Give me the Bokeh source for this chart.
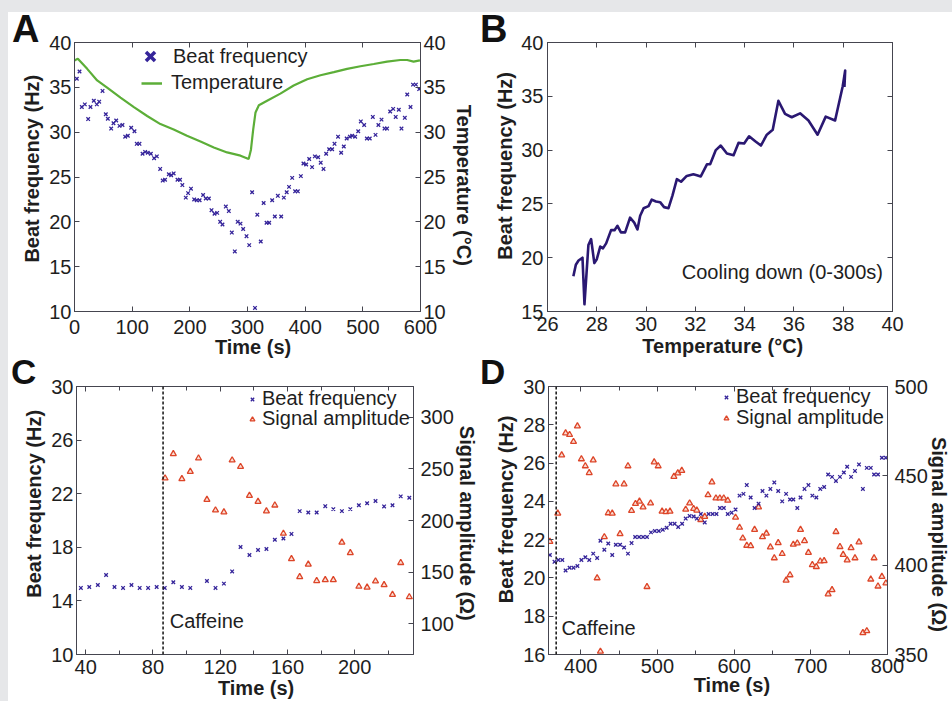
import numpy as np
from bokeh.plotting import figure
from bokeh.models import (LinearAxis, Range1d, FixedTicker, Label, Legend,
                          LegendItem, Span, Spacer, Div)
from bokeh.layouts import row, column
from bokeh.embed import file_html
from bokeh.resources import INLINE

# ---------------- data ----------------
# Panel A: beat frequency vs time, temperature vs time
a_time = [4.0, 8.7, 12.7, 17.9, 23.7, 27.7, 33.5, 38.7, 42.8, 48.6,
          54.3, 57.8, 63.6, 67.6, 72.3, 78.0, 83.2, 87.9, 92.5, 98.3,
          104.0, 108.0, 112.7, 118.0, 122.5, 127.0, 132.4, 138.0, 142.8, 148.6,
          153.0, 157.0, 163.6, 167.6, 172.0, 178.6, 183.0, 187.0, 193.0, 197.0,
          202.0, 207.5, 212.0, 217.0, 223.0, 227.7, 233.0, 237.6, 242.8, 247.4,
          252.6, 256.6, 262.4, 267.6, 272.8, 278.0, 283.0, 287.9, 292.5, 298.3,
          303.0, 308.0, 313.0, 317.0, 323.0, 328.0, 333.0, 337.6, 342.8, 347.4,
          352.6, 358.4, 363.0, 368.0, 372.0, 377.5, 382.6, 387.3, 392.5, 397.0,
          401.7, 407.0, 412.0, 416.8, 422.5, 427.0, 431.8, 436.4, 441.6, 446.8,
          450.9, 457.0, 462.4, 467.0, 472.0, 477.5, 481.5, 486.7, 492.0, 496.5,
          502.3, 507.0, 512.0, 517.3, 522.0, 527.0, 532.4, 537.6, 542.0, 547.4,
          552.6, 557.0, 562.4, 567.0, 572.8, 577.0, 582.7, 587.0, 592.0, 597.7]
a_beat = [35.95, 36.76, 32.8, 33.1, 31.46, 32.8, 33.5, 33.1, 33.4, 34.6,
          32.0, 31.5, 30.4, 31.0, 31.3, 30.7, 30.8, 29.5, 29.6, 30.5,
          30.1, 28.7, 28.7, 27.6, 27.8, 27.7, 27.6, 27.1, 27.3, 25.9,
          24.6, 24.7, 25.3, 25.2, 25.4, 24.7, 24.7, 24.1, 22.7, 23.2,
          23.7, 22.5, 22.4, 22.4, 23.0, 22.6, 22.6, 21.3, 20.9, 21.0,
          20.0, 19.7, 21.7, 21.2, 18.8, 16.7, 20.0, 19.8, 19.2, 18.4,
          17.4, 23.3, 10.4, 20.8, 17.8, 22.1, 19.9, 19.9, 22.4, 20.6,
          22.9, 20.6, 22.7, 23.3, 23.9, 24.9, 23.4, 23.4, 25.1, 26.5,
          26.4, 27.0, 26.1, 27.3, 27.2, 26.6, 25.9, 27.6, 28.1, 28.1,
          28.7, 29.5, 27.7, 28.4, 29.3, 29.5, 29.6, 29.5, 30.1, 31.2,
          30.8, 29.3, 29.3, 31.7, 29.7, 30.8, 31.4, 30.4, 30.4, 32.3,
          32.6, 31.7, 32.5, 30.4, 31.6, 34.2, 32.8, 35.3, 35.3, 34.8]
a_temp_time = [0, 5.8, 22, 39.3, 56.6, 79.8, 103, 126, 149, 172, 195, 218.5,
               241.6, 264.7, 287.9, 302, 306, 309.8, 313.9, 319.7, 334, 357,
               380, 403.5, 426.6, 449.7, 472.8, 495.9, 519, 542, 565, 577, 588, 599]
a_temp = [38.0, 38.2, 37.06, 35.77, 34.96, 33.85, 32.8, 31.8, 30.9, 30.3, 29.6, 28.96,
          28.3, 27.74, 27.38, 27.0, 28.04, 30.25, 32.2, 33.0, 33.5, 34.3,
          35.2, 35.9, 36.35, 36.7, 37.06, 37.35, 37.6, 37.87, 38.05, 38.05, 37.87, 38.0]

# Panel B: beat frequency vs temperature (cooling down)
b_temp = [27.05, 27.15, 27.26, 27.42, 27.5, 27.66, 27.77, 27.9, 28.0, 28.14,
          28.25, 28.38, 28.58, 28.72, 28.84, 28.98, 29.15, 29.35, 29.52, 29.65,
          29.76, 29.9, 30.1, 30.23, 30.4, 30.57, 30.73, 30.91, 31.07, 31.25,
          31.42, 31.65, 31.92, 32.06, 32.22, 32.47, 32.6, 32.83, 33.03, 33.28,
          33.55, 33.75, 33.98, 34.18, 34.43, 34.66, 34.9, 35.14, 35.37, 35.64,
          35.91, 36.25, 36.59, 36.96, 37.29, 37.67, 37.98, 38.08, 38.05]
b_beat = [18.27, 19.35, 19.74, 20.0, 15.67, 21.18, 21.73, 19.5, 19.86, 21.03,
          20.87, 21.33, 22.56, 22.56, 22.96, 22.35, 22.35, 23.72, 23.26, 22.62,
          23.9, 24.6, 24.79, 25.4, 25.22, 25.16, 24.7, 24.6, 25.77, 27.3,
          27.06, 27.6, 27.76, 27.67, 27.55, 28.68, 28.68, 30.0, 30.42, 29.69,
          29.53, 30.67, 30.61, 31.28, 30.82, 30.42, 31.43, 31.89, 34.58, 33.36,
          33.05, 33.42, 32.75, 31.43, 33.11, 32.75, 35.93, 37.4, 35.87]

# Panel C: caffeine, 35-235 s
c_beat_time = [37.1, 42.1, 47.2, 52.1, 57.1, 62.2, 67.2, 72.1, 77.1, 82.2,
               87.0, 92.1, 97.2, 102.2, 112.1, 117.2, 122.2, 127.1, 132.1, 137.4,
               142.5, 147.5, 152.5, 157.6, 162.4, 167.3, 172.4, 177.4, 182.5, 187.3,
               192.4, 197.4, 202.5, 207.4, 212.4, 217.5, 222.5, 227.4, 232.5]
c_beat = [14.97, 15.04, 15.19, 15.93, 15.04, 14.97, 15.19, 14.97, 14.97, 15.04,
          14.97, 15.39, 15.04, 14.97, 15.49, 14.97, 15.29, 16.2, 18.02, 17.43,
          17.8, 17.87, 18.56, 18.66, 19.0, 20.7, 20.6, 20.6, 21.07, 20.85,
          20.7, 20.85, 21.14, 21.29, 21.46, 21.05, 21.14, 21.8, 21.7]
c_amp_time = [87.2, 92.1, 97.2, 102.2, 107.1, 112.1, 117.2, 122.2, 127.1, 132.1,
              137.4, 142.5, 147.5, 152.5, 157.6, 162.4, 167.3, 172.4, 177.4, 182.5,
              187.3, 192.4, 197.4, 202.5, 207.4, 212.4, 217.5, 222.5, 227.4, 232.5]
c_amp = [241.0, 264.6, 240.4, 247.4, 260.4, 220.3, 210.0, 208.1, 258.5, 252.2,
         224.1, 218.3, 209.1, 214.8, 187.4, 162.8, 145.3, 157.4, 141.5, 142.4,
         142.4, 178.8, 168.6, 136.0, 135.1, 141.1, 137.6, 128.1, 159.0, 125.8]
c_caffeine = 86

# Panel D: caffeine, 358-800 s
d_beat_time = [359.8, 365.8, 370.9, 376.0, 380.3, 385.5, 390.6, 395.7, 400.9, 406.0,
               411.1, 416.3, 421.4, 425.7, 430.8, 435.9, 441.1, 445.8, 451.3, 456.5,
               461.6, 466.3, 471.0, 476.1, 481.3, 486.4, 491.6, 496.7, 501.8, 507.0,
               512.1, 517.2, 522.4, 527.1, 532.2, 536.9, 542.0, 547.2, 551.4, 556.6,
               561.7, 566.8, 572.0, 577.0, 581.5, 586.6, 591.7, 596.8, 601.9, 607.1,
               612.2, 616.5, 621.6, 626.7, 631.9, 637.0, 642.1, 647.3, 652.4, 657.5,
               662.7, 667.8, 672.9, 677.2, 682.4, 686.6, 691.8, 696.9, 702.0, 707.2,
               712.3, 717.4, 722.6, 727.7, 732.8, 738.0, 743.1, 747.4, 752.5, 757.6,
               762.8, 767.9, 773.0, 778.2, 782.5, 787.6, 792.7, 797.9]
d_beat = [21.20, 20.84, 20.94, 20.94, 20.39, 20.53, 20.53, 20.62, 20.94, 21.08,
          20.94, 21.27, 21.04, 21.94, 21.47, 21.80, 21.20, 21.73, 21.73, 21.59,
          21.27, 21.82, 22.14, 22.14, 22.14, 22.14, 22.38, 22.45, 22.45, 22.52,
          22.62, 22.83, 22.83, 22.66, 22.83, 23.10, 23.24, 23.21, 23.10, 23.34,
          22.90, 23.34, 23.34, 23.34, 23.65, 23.65, 23.34, 23.41, 23.57, 24.30,
          24.39, 24.85, 24.20, 23.65, 23.88, 24.54, 24.30, 24.65, 24.99, 24.54,
          24.00, 24.39, 24.10, 24.10, 23.65, 24.20, 24.65, 24.85, 24.30, 24.20,
          24.65, 24.75, 25.40, 25.28, 25.06, 25.28, 25.51, 25.81, 25.28, 25.59,
          25.93, 24.65, 25.75, 25.75, 25.40, 25.40, 26.28, 26.28]
d_amp_time = [359.8, 370.1, 375.2, 380.3, 385.5, 390.6, 395.7, 400.9, 406.0, 411.1,
              416.3, 421.4, 425.7, 430.8, 435.9, 441.1, 445.8, 451.3, 456.5, 461.6,
              466.3, 471.4, 476.6, 481.3, 486.4, 491.1, 495.8, 501.0, 506.1, 511.2,
              516.4, 521.5, 526.6, 531.8, 536.9, 542.0, 547.2, 551.4, 556.6, 561.7,
              566.0, 571.1, 576.3, 581.4, 586.5, 591.7,
              601.9, 607.1, 611.3, 616.5, 621.6, 626.7, 631.9, 637.0, 642.1, 647.3,
              652.4, 657.5, 662.7, 667.8, 672.9, 677.2, 682.4, 686.6, 691.8, 696.9,
              702.0, 707.2, 712.3, 717.4, 722.6, 727.7, 732.8, 738.0, 742.2, 747.4,
              752.5, 757.6, 762.8, 767.9, 773.0, 778.2, 782.5, 787.6, 792.7, 797.9]
d_amp = [413.2, 429.0, 461.6, 473.9, 473.0, 469.1, 477.8, 459.4, 455.5, 451.7,
         458.8, 392.8, 351.7, 415.8, 429.2, 429.0, 445.4, 417.5, 445.4, 455.5,
         430.5, 434.4, 435.7, 432.5, 387.9, 434.7, 457.7, 455.5, 430.1, 429.8,
         430.1, 449.6, 451.5, 452.9, 431.2, 434.7, 431.6, 430.7, 425.4, 427.2,
         439.3, 446.5, 437.5, 437.5, 437.5, 436.2,
         426.7, 421.1, 415.1, 411.0, 410.8, 419.9, 432.5, 415.8, 417.8, 410.1,
         404.0, 412.5, 406.4, 391.5, 394.5, 411.6, 412.3, 419.9, 413.6, 407.0,
         400.2, 399.1, 402.2, 402.4, 383.8, 386.2, 418.7, 410.3, 405.9, 402.8,
         409.7, 404.0, 412.9, 362.1, 363.2, 392.1, 404.0, 388.2, 393.6, 389.9]
d_caffeine = 368

# ticks
a_xticks = [0, 100, 200, 300, 400, 500, 600]
a_yticks = [10, 15, 20, 25, 30, 35, 40]
b_xticks = [26, 28, 30, 32, 34, 36, 38, 40]
b_yticks = [15, 20, 25, 30, 35, 40]
c_xticks = [40, 80, 120, 160, 200]
c_xminor = [60, 100, 140, 180, 220]
c_yticks = [10, 14, 18, 22, 26, 30]
c_rticks = [100, 150, 200, 250, 300]
d_xticks = [400, 500, 600, 700, 800]
d_xminor = [450, 550, 650, 750]
d_yticks = [16, 18, 20, 22, 24, 26, 28, 30]
d_rticks = [350, 400, 450, 500]

# ---------------- style ----------------
FONT = "Liberation Sans"
TXT = "#1e1e1e"
FRAME = "#45454f"
BLUE = "#35249a"
NAVY = "#2a1872"
GREEN = "#5cae38"
RED = "#dd4528"
PINK = "#f9ddd4"
GRAY = "#e6e7e9"
NB = "\u00a0"


def base_fig(w, h, xr, yr, bl, br, bt, bb):
    p = figure(width=w, height=h, x_range=Range1d(*xr), y_range=Range1d(*yr),
               output_backend="svg", toolbar_location=None,
               min_border_left=bl, min_border_right=br,
               min_border_top=bt, min_border_bottom=bb)
    p.xgrid.visible = False
    p.ygrid.visible = False
    p.outline_line_color = FRAME
    p.outline_line_width = 1
    p.border_fill_color = "white"
    p.background_fill_color = "white"
    return p


def style(ax, ticks, minor=(), show=True, standoff=3, label=None, lstand=0):
    ax.ticker = FixedTicker(ticks=list(ticks), minor_ticks=list(minor))
    ax.axis_line_color = FRAME
    ax.major_tick_line_color = FRAME
    ax.minor_tick_line_color = FRAME
    ax.major_tick_in = 5
    ax.major_tick_out = 0
    ax.minor_tick_in = 4
    ax.minor_tick_out = 0
    ax.major_label_text_font = FONT
    if show:
        ax.major_label_text_color = TXT
        ax.major_label_text_font_size = "20px"
        ax.major_label_standoff = standoff
    else:
        # tick marks only: no tick labels are drawn
        ax.major_label_text_color = None
        ax.major_label_text_font_size = "0px"
        ax.major_label_standoff = 0
    if label:
        ax.axis_label = label
        ax.axis_label_text_font = FONT
        ax.axis_label_text_font_size = "20px"
        ax.axis_label_text_font_style = "bold"
        ax.axis_label_text_color = TXT
        ax.axis_label_standoff = lstand


def legend(p, renderer, label, x, y, gw, gh, standoff):
    lg = Legend(items=[LegendItem(label=label, renderers=[renderer])],
                location=(x, y), orientation="vertical",
                border_line_color=None, background_fill_alpha=0,
                padding=0, margin=0, spacing=0,
                glyph_width=gw, glyph_height=gh, label_height=gh,
                label_standoff=standoff, label_text_font=FONT,
                label_text_font_size="20px", label_text_color=TXT)
    p.add_layout(lg)


def letter_div(txt, left, baseline, fs):
    # baseline offset of a line box whose line-height equals the font size
    base_off = (fs - 1.117 * fs) / 2 + 0.905 * fs
    top = baseline - base_off
    html = ('<div style="margin:0;padding:0;font-family:\'Liberation Sans\',Arial,sans-serif;'
            f'font-weight:bold;font-size:{fs}px;line-height:{fs}px;color:#111111;'
            f'white-space:nowrap">{txt}</div>')
    return Div(text=html, width=36, height=fs + 4,
               styles={"position": "absolute", "left": f"{left}px", "top": f"{top:.1f}px",
                       "z-index": "10", "margin": "0", "padding": "0"})


# ---------------- Panel A ----------------
pA = base_fig(472, 348, (0, 600), (10, 40), 66, 60, 30, 47)
pA.extra_y_ranges = {"temp": Range1d(10, 40)}
style(pA.xaxis[0], a_xticks, standoff=8, label=NB * 2 + "Time (s)", lstand=-1)
style(pA.yaxis[0], a_yticks, standoff=3, label=NB * 3 + "Beat frequency (Hz)", lstand=3)
axR = LinearAxis(y_range_name="temp")
style(axR, a_yticks, standoff=3, label=NB * 3 + "Temperature (°C)", lstand=4)
pA.add_layout(axR, "right")
axT = LinearAxis()
style(axT, a_xticks, show=False)
pA.add_layout(axT, "above")
pA.line(a_temp_time, a_temp, line_color=GREEN, line_width=2.2, y_range_name="temp")
pA.scatter(a_time, a_beat, marker="x", size=5, line_color=BLUE, line_width=1.3)
legA1 = pA.scatter([np.nan], [np.nan], marker="x", size=13, line_color=BLUE, line_width=3.5)
legA2 = pA.line([np.nan, np.nan], [np.nan, np.nan], line_color=GREEN, line_width=2.5)
legend(pA, legA1, "Beat frequency", 60, 239, 32, 32, 7)
legend(pA, legA2, "Temperature", 67, 217, 21, 22, 9)

# ---------------- Panel B ----------------
pB = base_fig(472, 348, (26, 40), (15, 40), 67, 60, 30, 46)
style(pB.xaxis[0], b_xticks, standoff=5, label=NB + "Temperature (°C)", lstand=1)
style(pB.yaxis[0], b_yticks, standoff=4, label=NB * 4 + "Beat frequency (Hz)", lstand=2)
axRB = LinearAxis()
style(axRB, b_yticks, show=False)
pB.add_layout(axRB, "right")
axTB = LinearAxis()
style(axTB, b_xticks, show=False)
pB.add_layout(axTB, "above")
pB.line(b_temp, b_beat, line_color=NAVY, line_width=2.6, line_join="round")
pB.add_layout(Label(x=31.45, y=18.7, text="Cooling down (0-300s)", text_font=FONT,
                    text_font_size="20px", text_color=TXT, text_align="left",
                    text_baseline="middle"))

# ---------------- Panel C ----------------
pC = base_fig(472, 341, (34.5, 235), (10, 30), 68, 61, 26, 44)
pC.extra_y_ranges = {"amp": Range1d(70, 330)}
style(pC.xaxis[0], c_xticks, c_xminor, standoff=5, label=NB * 4 + "Time (s)", lstand=0)
style(pC.yaxis[0], c_yticks, standoff=3, label=NB * 6 + "Beat frequency (Hz)", lstand=3)
axRC = LinearAxis(y_range_name="amp")
style(axRC, c_rticks, standoff=7, label=NB + "Signal amplitude (Ω)", lstand=-1)
pC.add_layout(axRC, "right")
axTC = LinearAxis()
style(axTC, c_xticks, c_xminor, show=False)
pC.add_layout(axTC, "above")
pC.add_layout(Span(location=c_caffeine, dimension="height", line_color="#111111",
                   line_width=1.5, line_dash="3 2"))
rCa = pC.scatter(c_amp_time, c_amp, marker="triangle", size=6, line_color=RED,
                 fill_color=PINK, line_width=1.3, y_range_name="amp")
rCb = pC.scatter(c_beat_time, c_beat, marker="x", size=5, line_color=BLUE, line_width=1.3)
legend(pC, rCb, "Beat frequency", 170, 244, 12, 22, 4)
legend(pC, rCa, "Signal amplitude", 170, 224, 12, 22, 4)
pC.add_layout(Label(x=90, y=12.5, text="Caffeine", text_font=FONT, text_font_size="20px",
                    text_color=TXT, text_align="left", text_baseline="middle"))

# ---------------- Panel D ----------------
pD = base_fig(472, 341, (358, 800), (16, 30), 68, 59, 26, 43)
pD.extra_y_ranges = {"amp": Range1d(350, 500)}
style(pD.xaxis[0], d_xticks, d_xminor, standoff=4, label=NB * 5 + "Time (s)", lstand=-2)
style(pD.yaxis[0], d_yticks, standoff=3, label=NB * 4 + "Beat frequency (Hz)", lstand=3)
axRD = LinearAxis(y_range_name="amp")
style(axRD, d_rticks, standoff=7, label=NB * 5 + "Signal amplitude (Ω)", lstand=-3)
pD.add_layout(axRD, "right")
axTD = LinearAxis()
style(axTD, d_xticks, d_xminor, show=False)
pD.add_layout(axTD, "above")
pD.add_layout(Span(location=d_caffeine, dimension="height", line_color="#111111",
                   line_width=1.5, line_dash="3 2"))
rDa = pD.scatter(d_amp_time, d_amp, marker="triangle", size=6, line_color=RED,
                 fill_color=PINK, line_width=1.3, y_range_name="amp")
rDb = pD.scatter(d_beat_time, d_beat, marker="x", size=5, line_color=BLUE, line_width=1.3)
legend(pD, rDb, "Beat frequency", 172, 246, 12, 22, 4)
legend(pD, rDa, "Signal amplitude", 172, 225, 12, 22, 4)
pD.add_layout(Label(x=375, y=17.4, text="Caffeine", text_font=FONT, text_font_size="20px",
                    text_color=TXT, text_align="left", text_baseline="middle"))

# ---------------- layout ----------------
top = Spacer(width=952, height=12, styles={"background-color": GRAY})
left1 = Spacer(width=8, height=348, styles={"background-color": GRAY})
left2 = Spacer(width=8, height=341, styles={"background-color": GRAY})
letters = [letter_div("A", 12, 41.7, 38), letter_div("B", 480, 41.7, 38),
           letter_div("C", 11, 383.2, 35), letter_div("D", 480, 383.3, 35)]
layout = column(top, row(left1, pA, pB), row(left2, pC, pD), *letters)

open("out.html", "w").write(file_html(layout, INLINE))
